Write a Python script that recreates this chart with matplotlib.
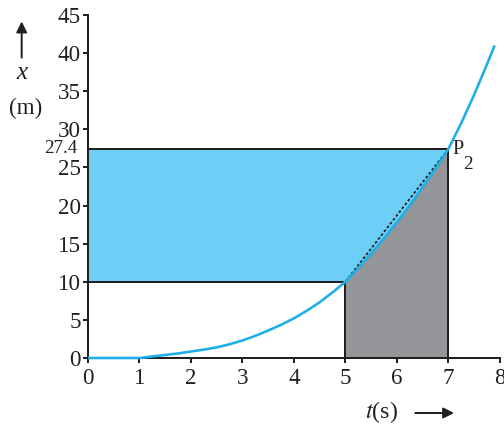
import matplotlib
matplotlib.use("Agg")
import matplotlib.pyplot as plt
import numpy as np

# data
t_vals = [0, 0.5, 1, 1.25, 1.5, 1.75, 2, 2.25, 2.5, 2.75, 3, 3.25, 3.5, 3.75, 4, 4.25, 4.5, 4.75,
          5, 5.25, 5.5, 5.75, 6, 6.25, 6.5, 6.75, 7, 7.25, 7.5, 7.75, 7.9]
x_vals = [0, 0, 0, 0.2, 0.4, 0.6, 0.85, 1.1, 1.4, 1.8, 2.3, 2.9, 3.6, 4.35, 5.2, 6.2, 7.3, 8.6,
          10, 11.8, 13.7, 15.7, 17.8, 20.0, 22.4, 24.8, 27.4, 30.8, 34.5, 38.5, 41]
t1, t2 = 5, 7
x1, x2 = 10, 27.4
xticks = [0, 1, 2, 3, 4, 5, 6, 7, 8]
yticks = [0, 5, 10, 15, 20, 25, 30, 35, 40, 45]

plt.rcParams['font.family'] = ['Liberation Serif', 'DejaVu Serif']
plt.rcParams['mathtext.fontset'] = 'stix'

fig = plt.figure(figsize=(7, 6), dpi=72)
ax = fig.add_axes([0.1746, 0.1713, 0.817, 0.794])

t = np.array(t_vals)
x = np.array(x_vals)

ink = '#231F20'
blue_fill = '#6DCFF6'
curve_col = '#1EAEE8'
gray = '#939598'

# blue rectangle
ax.fill_between([0, t2], [x1, x1], [x2, x2], color=blue_fill, zorder=1, lw=0)
ax.plot([0, t1], [x1, x1], color=ink, lw=2, zorder=3)
ax.plot([0, t2], [x2, x2], color=ink, lw=2, zorder=3)

# gray area under curve
mask = (t >= t1) & (t <= t2)
ax.fill_between(t[mask], 0, x[mask], color=gray, zorder=2, lw=0)
ax.plot([t1, t1], [0, x1], color=ink, lw=2, zorder=3)
ax.plot([t2, t2], [0, x2], color=ink, lw=2, zorder=3)

# chord
ax.plot([t1, t2], [x1, x2], color=ink, lw=1.8, ls=(0, (1.5, 1.2)), zorder=4)

# curve
ax.plot(t, x, color=curve_col, lw=2.6, zorder=5, solid_capstyle='butt', clip_on=False)

ax.set_xlim(0, 8)
ax.set_ylim(0, 45)
ax.set_xticks(xticks)
ax.set_yticks(yticks)
ax.tick_params(labelsize=23, width=2, length=5, direction='out', colors=ink)
ax.tick_params(axis='x', pad=5)
ax.tick_params(axis='y', pad=2)
for s in ['top', 'right']:
    ax.spines[s].set_visible(False)
for s in ['left', 'bottom']:
    ax.spines[s].set_linewidth(2)
    ax.spines[s].set_color(ink)

# 27.4 label
ax.text(-0.2, x2 + 0.1, '27.4', fontsize=19, ha='right', va='center', color=ink)

# P2 label
ax.text(7.08, 27.4, 'P', fontsize=20, ha='left', va='center', color=ink)
ax.text(7.28, 25.4, '2', fontsize=19, ha='left', va='center', color=ink)

# y-axis label
fig.text(0.043, 0.832, 'x', fontsize=25, style='italic', ha='center', va='center', color=ink)
fig.text(0.05, 0.75, '(m)', fontsize=23, ha='center', va='center', color=ink)
fig.patches.append(matplotlib.patches.FancyArrowPatch((0.043, 0.862), (0.043, 0.955),
    transform=fig.transFigure, arrowstyle='-|>', mutation_scale=22, color=ink, lw=2))

# x-axis label
fig.text(0.756, 0.046, r'$t$(s)', fontsize=24, ha='center', va='center', color=ink)
fig.patches.append(matplotlib.patches.FancyArrowPatch((0.82, 0.044), (0.905, 0.044),
    transform=fig.transFigure, arrowstyle='-|>', mutation_scale=22, color=ink, lw=2))

fig.savefig('out.png', dpi=72)
